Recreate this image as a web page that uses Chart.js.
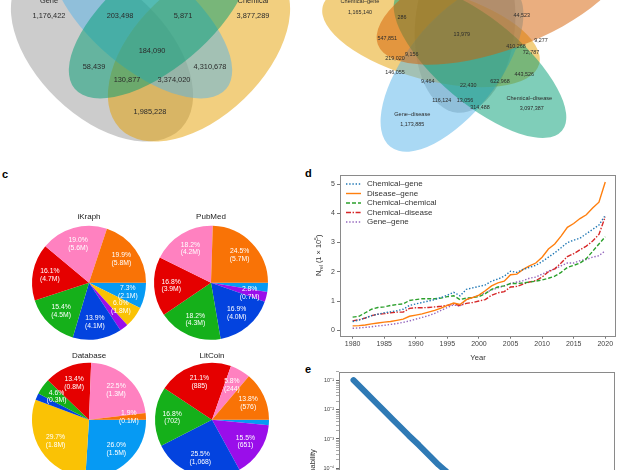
<!DOCTYPE html>
<html><head><meta charset="utf-8">
<script src="https://cdn.jsdelivr.net/npm/chart.js@4.4.1/dist/chart.umd.min.js"></script>
<style>
html,body{margin:0;padding:0;background:#fff;width:618px;height:470px;overflow:hidden;}
body{position:relative;font-family:"Liberation Sans",Arial,sans-serif;}
canvas{position:absolute;display:block;}
.pl{position:absolute;font:bold 11px "Liberation Sans",Arial,sans-serif;line-height:14px;color:#000;}
</style></head><body>
<canvas id="vennA" width="300" height="160" style="left:0;top:0"></canvas>
<canvas id="vennB" width="318" height="160" style="left:300px;top:0"></canvas>
<div class="pl" style="left:2px;top:167px">c</div>
<div class="pl" style="left:305px;top:166px">d</div>
<div class="pl" style="left:305px;top:362px">e</div>
<canvas id="pie0" width="118" height="131" style="left:30px;top:212px"></canvas>
<canvas id="pie1" width="118" height="131" style="left:152px;top:212px"></canvas>
<canvas id="pie2" width="118" height="129" style="left:30px;top:351px"></canvas>
<canvas id="pie3" width="118" height="129" style="left:153px;top:351px"></canvas>
<canvas id="lineD" width="318" height="197" style="left:300px;top:165px"></canvas>
<canvas id="logE" width="318" height="240" style="left:300px;top:362px"></canvas>
<script>
// ================= DATA =================
// Panel a: four-set Venn counts
const vennANames = ['Gene', 'Chemical'];
const vennACounts = [1176422, 203498, 5871, 3877289, 184090, 58439, 4310678, 130877, 3374020, 1985228];
// Panel b: five-set Venn counts
const vennBNames = ['Chemical–gene', 'Chemical–disease', 'Gene–disease'];
const vennBCounts = [1165140, 286, 44523, 13979, 547851, 9277, 410268, 72787, 9156, 219020,
  146055, 443526, 9464, 622968, 22430, 116124, 13056, 314488, 3097387, 1173885];

// Panel c: pies (slices listed counter-clockwise from 3 o'clock)
const pieTitles = ['iKraph', 'PubMed', 'Database', 'LitCoin'];
const pieCategoryColors = ['#f97306', '#ff81c0', '#e50000', '#15b01a', '#0343df', '#9a0eea', '#fac205', '#069af3'];
const pieIKraph   = [19.9, 19.0, 16.1, 15.4, 13.9, 2.4, 6.0, 7.3];
const pieIKraphN  = ['5.8M', '5.6M', '4.7M', '4.5M', '4.1M', '', '1.8M', '2.1M'];
const piePubMed   = [24.5, 18.2, 16.8, 18.2, 16.9, 2.8, 0, 2.6];
const piePubMedN  = ['5.7M', '4.2M', '3.9M', '4.3M', '4.0M', '0.7M', '', ''];
const pieDatabase = [1.9, 22.5, 13.4, 4.6, 1.9, 0, 29.7, 26.0];
const pieDatabaseN= ['0.1M', '1.3M', '0.8M', '0.3M', '', '', '1.8M', '1.5M'];
const pieLitCoin  = [13.8, 5.8, 21.1, 16.8, 25.5, 15.5, 0, 1.5];
const pieLitCoinN = ['576', '244', '885', '702', '1,068', '651', '', ''];

// Panel d: N_rel (x 10^5) per year
const years = [];
for (let yr = 1980; yr <= 2020; yr++) years.push(yr);
const chemicalGene = [0.30,0.35,0.42,0.50,0.55,0.60,0.63,0.67,0.72,0.85,0.90,0.95,1.00,1.05,1.12,1.20,1.30,1.18,1.40,1.45,1.50,1.55,1.68,1.75,1.85,2.02,1.98,2.08,2.15,2.22,2.35,2.50,2.65,2.82,3.00,3.08,3.15,3.30,3.45,3.60,3.93];
const diseaseGene  = [0.15,0.16,0.18,0.22,0.25,0.28,0.30,0.34,0.38,0.48,0.52,0.56,0.62,0.68,0.76,0.85,0.93,0.88,1.05,1.12,1.20,1.35,1.52,1.62,1.68,1.90,1.92,2.08,2.20,2.30,2.50,2.78,2.95,3.22,3.52,3.65,3.82,3.95,4.18,4.38,5.07];
const chemicalChemical = [0.45,0.48,0.60,0.72,0.78,0.80,0.85,0.88,0.90,1.02,1.05,1.08,1.08,1.08,1.10,1.15,1.18,1.05,1.10,1.12,1.15,1.25,1.40,1.48,1.52,1.60,1.60,1.62,1.65,1.68,1.72,1.78,1.85,1.98,2.15,2.22,2.30,2.45,2.70,2.95,3.20];
const chemicalDisease = [0.32,0.36,0.42,0.50,0.55,0.57,0.60,0.62,0.62,0.75,0.77,0.77,0.78,0.80,0.82,0.85,0.90,0.85,0.92,0.95,1.00,1.05,1.20,1.28,1.32,1.48,1.50,1.58,1.65,1.70,1.82,2.00,2.10,2.30,2.52,2.62,2.75,2.88,3.05,3.28,3.88];
const geneGene = [0.07,0.08,0.10,0.12,0.15,0.17,0.20,0.23,0.27,0.32,0.38,0.44,0.50,0.58,0.68,0.78,0.87,0.82,1.05,1.12,1.20,1.28,1.38,1.45,1.52,1.60,1.65,1.70,1.78,1.82,1.92,2.02,2.10,2.20,2.30,2.30,2.38,2.42,2.50,2.55,2.72];
const yTicksD = [0, 1, 2, 3, 4, 5];
const xTicksD = [1980, 1985, 1990, 1995, 2000, 2005, 2010, 2015, 2020];

// Panel e: degree distribution (visible part)
const degreeK    = [1, 1.5, 2, 3, 4, 5, 7, 10, 15, 20, 25, 30];
const degreeProb = [0.105, 0.042, 0.022, 0.0088, 0.0046, 0.0028, 0.00132, 0.00062, 0.00025, 0.00013, 0.000085, 0.000057];
const yTicksE = [-7, -6, -5, -4, -3, -2, -1];

// ================= LAYOUT (not data) =================
const FONT = '"Liberation Sans", Arial, sans-serif';
const vennAEllipses = [
  {c:[102,52], a:110, b:65, rot:44,  color:'rgba(153,153,153,0.5)'},
  {c:[199,52], a:110, b:65, rot:-44, color:'rgba(230,159,0,0.5)'},
  {c:[142,18], a:110, b:50, rot:40,  color:'rgba(86,180,233,0.5)'},
  {c:[159,18], a:110, b:50, rot:-40, color:'rgba(0,158,115,0.5)'}
];
const vennANamePos = [[49,0.5],[253,0.5]];
const vennACountPos = [[49,16],[120,16],[183,16],[253,16],[152,51],[94,67],[210,67],[127,80],[174,80],[150,112]];
const vennBEllipses = [
  {c:[165,25], a:88,  b:50, rot:95,  color:'rgba(153,153,153,0.5)'},
  {c:[131,35], a:112, b:45, rot:15,  color:'rgba(230,159,0,0.5)'},
  {c:[152,68], a:100, b:46, rot:-52, color:'rgba(86,180,233,0.5)'},
  {c:[180,62], a:107, b:42, rot:40,  color:'rgba(0,158,115,0.5)'},
  {c:[200,0],  a:130, b:50, rot:-20, color:'rgba(213,94,0,0.5)'}
];
const vennBNamePos = [[60,1],[229.3,98.3],[112.3,114.3]];
const vennBCountPos = [[60,12.3],[102,17.7],[221.7,15.7],[161.7,34.3],[87.3,39],[241,41],[216,46.7],[231,52.7],[111.7,54.3],[95,58.3],
  [95,72.7],[224.3,75],[127.7,82],[200,82],[168.3,86],[141.7,101],[165,101],[180,107.3],[231.7,109],[112.3,125]];

Chart.defaults.font.family = FONT;
Chart.defaults.devicePixelRatio = 1;
Chart.defaults.animation = false;

function fmt(n){ return n.toLocaleString('en-US'); }

function vennChart(id, w, h, ellipses, names, namePos, counts, countPos, nameSize, countSize){
  const pts = counts.map((v,i)=>({x:countPos[i][0], y:countPos[i][1], v}));
  new Chart(document.getElementById(id), {
    type:'scatter',
    data:{datasets:[{data:pts, pointRadius:0}]},
    options:{
      responsive:false, events:[],
      layout:{padding:0},
      plugins:{legend:{display:false}, tooltip:{enabled:false}},
      scales:{
        x:{type:'linear', min:0, max:w, display:false},
        y:{type:'linear', min:0, max:h, reverse:true, display:false}
      }
    },
    plugins:[{
      id:'venn',
      beforeDatasetsDraw(chart){
        const {ctx, scales:{x,y}} = chart;
        const k = x.getPixelForValue(1) - x.getPixelForValue(0);
        ctx.save();
        ellipses.forEach(e=>{
          ctx.beginPath();
          ctx.ellipse(x.getPixelForValue(e.c[0]), y.getPixelForValue(e.c[1]), e.a*k, e.b*k, e.rot*Math.PI/180, 0, Math.PI*2);
          ctx.fillStyle = e.color; ctx.fill();
        });
        ctx.restore();
      },
      afterDatasetsDraw(chart){
        const {ctx, scales:{x,y}} = chart;
        ctx.save();
        ctx.fillStyle = '#2b2b2b'; ctx.textAlign='center'; ctx.textBaseline='middle';
        ctx.font = countSize + 'px ' + FONT;
        chart.getDatasetMeta(0).data.forEach((el,i)=>{ ctx.fillText(fmt(pts[i].v), el.x, el.y); });
        ctx.font = nameSize + 'px ' + FONT;
        names.forEach((n,i)=>{ ctx.fillText(n, x.getPixelForValue(namePos[i][0]), y.getPixelForValue(namePos[i][1])); });
        ctx.restore();
      }
    }]
  });
}
vennChart('vennA', 300, 160, vennAEllipses, vennANames, vennANamePos, vennACounts, vennACountPos, 7.4, 7.4);
vennChart('vennB', 318, 160, vennBEllipses, vennBNames, vennBNamePos, vennBCounts, vennBCountPos, 5.6, 5.4);

// ---------- pies ----------
function pieChart(id, title, vals, counts, titlePadBottom){
  const order = vals.map((_,i)=>i).reverse();   // clockwise from 3 o'clock == counter-clockwise listing
  const data = order.map(i=>vals[i]);
  const cols = order.map(i=>pieCategoryColors[i]);
  const labs = order.map(i=> counts[i] ? vals[i].toFixed(1)+'%|('+counts[i]+')' : '');
  new Chart(document.getElementById(id), {
    type:'pie',
    data:{labels:labs, datasets:[{data, backgroundColor:cols, borderWidth:0}]},
    options:{
      responsive:false, events:[], rotation:90,
      layout:{padding:{left:2,right:2,top:0,bottom:2}},
      plugins:{
        legend:{display:false}, tooltip:{enabled:false},
        title:{display:true, text:title, color:'#222', font:{size:8, weight:'normal', family:FONT}, padding:{top:0,bottom:titlePadBottom}}
      }
    },
    plugins:[{
      id:'pielabels',
      afterDatasetsDraw(chart){
        const ctx = chart.ctx;
        ctx.save();
        ctx.fillStyle='#fff'; ctx.textAlign='center'; ctx.textBaseline='middle';
        ctx.font = '6.8px ' + FONT;
        chart.getDatasetMeta(0).data.forEach((arc,i)=>{
          const l = labs[i]; if(!l) return;
          const p = arc.getProps(['startAngle','endAngle','outerRadius','x','y'], true);
          const mid = (p.startAngle+p.endAngle)/2, r = p.outerRadius*0.7;
          const px = p.x + Math.cos(mid)*r, py = p.y + Math.sin(mid)*r;
          const parts = l.split('|');
          ctx.fillText(parts[0], px, py-3.9);
          ctx.fillText(parts[1], px, py+3.9);
        });
        ctx.restore();
      }
    }]
  });
}
pieChart('pie0', pieTitles[0], pieIKraph, pieIKraphN, 3);
pieChart('pie1', pieTitles[1], piePubMed, piePubMedN, 3);
pieChart('pie2', pieTitles[2], pieDatabase, pieDatabaseN, 1);
pieChart('pie3', pieTitles[3], pieLitCoin, pieLitCoinN, 1);

// ---------- panel d ----------
const frame = {
  id:'frame',
  afterDraw(chart){
    const {ctx, chartArea:a} = chart;
    ctx.save(); ctx.strokeStyle='#8a8a8a'; ctx.lineWidth=1;
    ctx.strokeRect(Math.round(a.left)+0.5, Math.round(a.top)+0.5, Math.round(a.right-a.left)-1, Math.round(a.bottom-a.top));
    ctx.restore();
  }
};
const dsD = [
  {label:'Chemical–gene', data:chemicalGene, borderColor:'#1f77b4', borderDash:[1.4,1.8], borderWidth:1.4},
  {label:'Disease–gene', data:diseaseGene, borderColor:'#ff7f0e', borderDash:[], borderWidth:1.4},
  {label:'Chemical–chemical', data:chemicalChemical, borderColor:'#2ca02c', borderDash:[4,2], borderWidth:1.4},
  {label:'Chemical–disease', data:chemicalDisease, borderColor:'#d62728', borderDash:[5,1.6,1.4,1.6], borderWidth:1.4},
  {label:'Gene–gene', data:geneGene, borderColor:'#9467bd', borderDash:[1.4,1.8], borderWidth:1.4}
].map(d=>Object.assign(d,{data:d.data.map((v,i)=>({x:years[i], y:v})), pointRadius:0, fill:false, tension:0}));

new Chart(document.getElementById('lineD'), {
  type:'line',
  data:{datasets:dsD},
  options:{
    responsive:false, events:[],
    layout:{padding:{left:0,right:2,top:10,bottom:0}},
    plugins:{legend:{display:false}, tooltip:{enabled:false}},
    scales:{
      x:{type:'linear', min:1978, max:2021.7,
        afterBuildTicks(s){ s.ticks = xTicksD.map(v=>({value:v})); },
        afterFit(s){ s.height = 26.3; },
        grid:{drawOnChartArea:false, drawTicks:true, tickLength:3, tickColor:'#777'},
        border:{display:false},
        ticks:{color:'#444', font:{size:7}, padding:1.5, maxRotation:0, autoSkip:false, callback:v=>String(v)},
        title:{display:true, text:'Year', color:'#333', font:{size:7.6}, padding:{top:0,bottom:0}}
      },
      y:{type:'linear', min:-0.185, max:5.31,
        afterBuildTicks(s){ s.ticks = yTicksD.map(v=>({value:v})); },
        afterFit(s){ s.width = 40; },
        grid:{drawOnChartArea:false, drawTicks:true, tickLength:3, tickColor:'#777'},
        border:{display:false},
        ticks:{color:'#444', font:{size:7}, padding:2, callback:v=>String(v)}
      }
    }
  },
  plugins:[frame, {
    id:'legendAndTitle',
    afterDraw(chart){
      const {ctx, chartArea:a} = chart;
      ctx.save();
      ctx.font = '8px ' + FONT; ctx.textBaseline='middle'; ctx.textAlign='left';
      chart.data.datasets.forEach((d,i)=>{
        const yy = a.top + 9 + i*9.5;
        ctx.beginPath(); ctx.setLineDash(d.borderDash); ctx.strokeStyle=d.borderColor; ctx.lineWidth=1.4;
        ctx.moveTo(a.left+6, yy); ctx.lineTo(a.left+21, yy); ctx.stroke();
        ctx.setLineDash([]); ctx.fillStyle='#333';
        ctx.fillText(d.label, a.left+27, yy);
      });
      ctx.translate(18, (a.top+a.bottom)/2); ctx.rotate(-Math.PI/2);
      const parts = [['N',7.4,0],['rel',5,2],[' (1 × 10',7.4,0],['5',5,-3],[')',7.4,0]];
      let tw = 0; parts.forEach(p=>{ ctx.font=p[1]+'px '+FONT; tw += ctx.measureText(p[0]).width; });
      let xx = -tw/2; ctx.fillStyle='#333'; ctx.textBaseline='alphabetic';
      parts.forEach(p=>{ ctx.font=p[1]+'px '+FONT; ctx.fillText(p[0], xx, 2.6+p[2]); xx += ctx.measureText(p[0]).width; });
      ctx.restore();
    }
  }]
});

// ---------- panel e ----------
const supers = {'-':'⁻','0':'⁰','1':'¹','2':'²','3':'³','4':'⁴','5':'⁵','6':'⁶','7':'⁷','8':'⁸','9':'⁹'};
new Chart(document.getElementById('logE'), {
  type:'line',
  data:{datasets:[{data:degreeK.map((k,i)=>({x:k, y:degreeProb[i]})), borderColor:'#2f7ab5', borderWidth:6,
    borderCapStyle:'round', borderJoinStyle:'round', pointRadius:0, fill:false, tension:0}]},
  options:{
    responsive:false, events:[],
    layout:{padding:{left:0,right:3,top:9.7,bottom:0}},
    plugins:{legend:{display:false}, tooltip:{enabled:false}},
    scales:{
      x:{type:'logarithmic', min:0.634, max:10000, afterFit(s){ s.height = 40; },
        grid:{drawOnChartArea:false}, border:{display:false}, ticks:{display:false}},
      y:{type:'logarithmic', min:Math.pow(10,-7.21), max:Math.pow(10,-0.69),
        afterBuildTicks(s){
          const t = [];
          yTicksE.forEach(p=>{ for(let m=1;m<10;m++){ const v=m*Math.pow(10,p); if(v>=s.min && v<=s.max) t.push({value:v, major:m===1}); } });
          const extra = 2*Math.pow(10,-1); if(extra<=s.max) t.push({value:extra, major:false});
          s.ticks = t;
        },
        afterFit(s){ s.width = 39; },
        grid:{drawOnChartArea:false, drawTicks:true, tickLength:3, tickColor:(c)=> c.tick && c.tick.major ? '#666' : '#aaa'},
        border:{display:false},
        ticks:{color:'#444', font:{size:5.5}, padding:2, autoSkip:false,
          callback:function(v){ const p = Math.round(Math.log10(v)); if(Math.abs(v - Math.pow(10,p)) > 1e-12*Math.pow(10,p)) return ''; return '10' + String(p).split('').map(ch=>supers[ch]).join(''); }},
        title:{display:true, text:'Probability', color:'#333', font:{size:7.6}, padding:{top:8.4,bottom:0}}
      }
    }
  },
  plugins:[frame]
});
</script>
</body></html>
